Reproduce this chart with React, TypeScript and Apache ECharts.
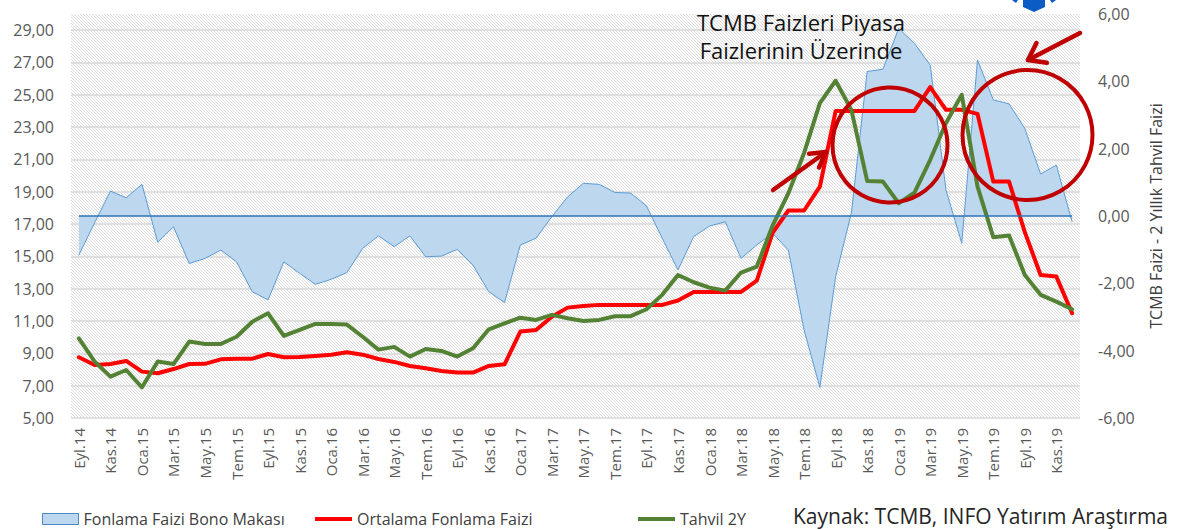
import React, { useEffect, useRef } from 'react';
import * as echarts from 'echarts';

const categories = [
  'Eyl.14', 'Eki.14', 'Kas.14', 'Ara.14',
  'Oca.15', 'Şub.15', 'Mar.15', 'Nis.15', 'May.15', 'Haz.15', 'Tem.15', 'Ağu.15', 'Eyl.15', 'Eki.15', 'Kas.15', 'Ara.15',
  'Oca.16', 'Şub.16', 'Mar.16', 'Nis.16', 'May.16', 'Haz.16', 'Tem.16', 'Ağu.16', 'Eyl.16', 'Eki.16', 'Kas.16', 'Ara.16',
  'Oca.17', 'Şub.17', 'Mar.17', 'Nis.17', 'May.17', 'Haz.17', 'Tem.17', 'Ağu.17', 'Eyl.17', 'Eki.17', 'Kas.17', 'Ara.17',
  'Oca.18', 'Şub.18', 'Mar.18', 'Nis.18', 'May.18', 'Haz.18', 'Tem.18', 'Ağu.18', 'Eyl.18', 'Eki.18', 'Kas.18', 'Ara.18',
  'Oca.19', 'Şub.19', 'Mar.19', 'Nis.19', 'May.19', 'Haz.19', 'Tem.19', 'Ağu.19', 'Eyl.19', 'Eki.19', 'Kas.19', 'Ara.19',
];

// Fonlama Faizi Bono Makası (right axis)
const spread = [
  -1.16, -0.2, 0.74, 0.54,
  0.94, -0.78, -0.32, -1.41, -1.26, -1.01, -1.36, -2.25, -2.49, -1.36, -1.7, -2.03,
  -1.88, -1.68, -0.96, -0.59, -0.91, -0.59, -1.21, -1.19, -0.99, -1.46, -2.25, -2.57,
  -0.86, -0.66, -0.02, 0.57, 0.97, 0.94, 0.7, 0.68, 0.3, -0.66, -1.6, -0.61,
  -0.3, -0.17, -1.26, -0.86, -0.51, -1.01, -3.39, -5.09, -1.8, 0.09, 4.29, 4.36,
  5.57, 5.13, 4.48, 0.77, -0.81, 4.63, 3.45, 3.33, 2.6, 1.25, 1.51, -0.17,
];

// Ortalama Fonlama Faizi (left axis)
const fundingRate = [
  8.76, 8.28, 8.34, 8.53,
  7.87, 7.77, 8.03, 8.34, 8.35, 8.63, 8.67, 8.67, 8.96, 8.76, 8.78, 8.84,
  8.92, 9.07, 8.92, 8.65, 8.47, 8.22, 8.08, 7.91, 7.81, 7.81, 8.22, 8.32,
  10.35, 10.45, 11.27, 11.83, 11.93, 12.0, 12.0, 12.0, 12.0, 12.0, 12.27, 12.8,
  12.8, 12.8, 12.8, 13.5, 16.45, 17.84, 17.84, 19.32, 24.0, 24.0, 24.0, 24.0,
  24.0, 24.0, 25.48, 24.07, 24.07, 23.82, 19.63, 19.63, 16.5, 13.85, 13.75, 11.48,
];

// Tahvil 2Y (left axis)
const bond2y = [
  9.93, 8.49, 7.56, 7.97,
  6.9, 8.49, 8.34, 9.73, 9.58, 9.58, 10.03, 10.96, 11.48, 10.08, 10.45, 10.82,
  10.82, 10.78, 10.03, 9.23, 9.4, 8.8, 9.27, 9.15, 8.8, 9.31, 10.49, 10.86,
  11.21, 11.07, 11.38, 11.17, 11.0, 11.07, 11.3, 11.3, 11.73, 12.62, 13.85, 13.4,
  13.07, 12.88, 14.0, 14.37, 16.9, 18.9, 21.4, 24.49, 25.87, 24.07, 19.67, 19.63,
  18.29, 18.95, 20.98, 23.25, 25.0, 19.32, 16.19, 16.29, 13.85, 12.62, 12.2, 11.73,
];

const seriesNames = ['Fonlama Faizi Bono Makası', 'Ortalama Fonlama Faizi', 'Tahvil 2Y'];
const leftAxisRange = [5, 30];
const leftAxisStep = 2;
const rightAxisRange = [-6, 6];
const rightAxisStep = 2;
const titleLines = ['TCMB Faizleri Piyasa', 'Faizlerinin Üzerinde'];
const rightAxisName = 'TCMB Faizi - 2 Yıllık Tahvil Faizi';
const sourceText = 'Kaynak: TCMB, INFO Yatırım Araştırma';

const FONT = '"Open Sans", "Noto Sans", sans-serif';
const ANNOT = '#C00000';

const fmt = (v: number) => v.toFixed(2).replace('.', ',');

function arrow(x1: number, y1: number, x2: number, y2: number, len: number, ang: number) {
  const dx = x2 - x1;
  const dy = y2 - y1;
  const d = Math.sqrt(dx * dx + dy * dy);
  const bx = -dx / d;
  const by = -dy / d;
  const rot = (a: number) => [
    x2 + len * (bx * Math.cos(a) - by * Math.sin(a)),
    y2 + len * (bx * Math.sin(a) + by * Math.cos(a)),
  ];
  const style = { stroke: ANNOT, lineWidth: 4.5, lineCap: 'round', lineJoin: 'round', fill: 'none' };
  return [
    { type: 'line', shape: { x1, y1, x2, y2 }, style, z: 100 },
    { type: 'polyline', shape: { points: [rot(ang), [x2, y2], rot(-ang)] }, style, z: 100 },
  ];
}

export default function App() {
  const ref = useRef<HTMLDivElement>(null);
  useEffect(() => {
    document.body.style.margin = '0';
    const chart = echarts.init(ref.current!, null, { renderer: 'svg' });

    const cv = document.createElement('canvas');
    cv.width = 3;
    cv.height = 3;
    const ctx = cv.getContext('2d')!;
    ctx.fillStyle = '#ffffff';
    ctx.fillRect(0, 0, 3, 3);
    ctx.fillStyle = '#dcdcdc';
    for (let i = 0; i < 3; i++) ctx.fillRect(i, i, 1, 1);

    const axisLabel = { fontFamily: FONT, fontSize: 16, color: '#595959' };

    const option: any = {
      animation: false,
      backgroundColor: '#ffffff',
      grid: {
        show: true,
        left: 71,
        right: 102,
        top: 14,
        bottom: 112,
        backgroundColor: { image: cv, repeat: 'repeat' },
        borderWidth: 0,
      },
      xAxis: {
        type: 'category',
        data: categories,
        boundaryGap: true,
        axisLine: { show: false },
        axisTick: { show: false },
        axisLabel: { ...axisLabel, fontSize: 15, rotate: 90, interval: 1, margin: 10 },
        splitLine: { show: false },
      },
      yAxis: [
        {
          type: 'value',
          min: leftAxisRange[0],
          max: leftAxisRange[1],
          interval: leftAxisStep,
          axisLine: { show: false },
          axisTick: { show: false },
          axisLabel: { ...axisLabel, margin: 17, showMaxLabel: false, formatter: fmt },
          splitLine: { show: true, showMaxLine: false, lineStyle: { color: '#d9d9d9', width: 1.5 } },
        },
        {
          type: 'value',
          min: rightAxisRange[0],
          max: rightAxisRange[1],
          interval: rightAxisStep,
          position: 'right',
          axisLine: { show: false },
          axisTick: { show: false },
          axisLabel: { ...axisLabel, margin: 18, formatter: fmt },
          splitLine: { show: false },
          name: rightAxisName,
          nameLocation: 'middle',
          nameRotate: 90,
          nameGap: 68,
          nameTextStyle: { fontFamily: FONT, fontSize: 16, color: '#404040' },
        },
      ],
      legend: [0, 1, 2].map((i) => ({
        left: [42, 315, 638][i],
        top: 511,
        padding: 0,
        itemGap: 0,
        itemWidth: i === 0 ? 36 : 37,
        itemHeight: i === 0 ? 11 : 4,
        textStyle: { fontFamily: FONT, fontSize: 16, color: '#404040' },
        data: [
          {
            name: seriesNames[i],
            icon: 'rect',
            itemStyle:
              i === 0
                ? { color: '#BDD7EE', borderColor: '#4F87C4', borderWidth: 1 }
                : { color: i === 1 ? '#FF0000' : '#548235', borderWidth: 0 },
          },
        ],
        selectedMode: false,
      })),
      series: [
        {
          name: seriesNames[0],
          type: 'line',
          yAxisIndex: 1,
          data: spread,
          symbol: 'none',
          color: '#BDD7EE',
          lineStyle: { color: '#5B9BD5', width: 1 },
          areaStyle: { color: '#BDD7EE', opacity: 1 },
          markLine: {
            silent: true,
            symbol: 'none',
            label: { show: false },
            lineStyle: { color: '#2E75B6', width: 1.5, type: 'solid' },
            data: [[{ coord: [categories[0], 0] }, { coord: [categories[categories.length - 1], 0] }]],
          },
          z: 1,
        },
        {
          name: seriesNames[1],
          type: 'line',
          yAxisIndex: 0,
          data: fundingRate,
          symbol: 'none',
          color: '#FF0000',
          lineStyle: { color: '#FF0000', width: 4, join: 'round', cap: 'round' },
          z: 3,
        },
        {
          name: seriesNames[2],
          type: 'line',
          yAxisIndex: 0,
          data: bond2y,
          symbol: 'none',
          color: '#548235',
          lineStyle: { color: '#548235', width: 4, join: 'round', cap: 'round' },
          z: 4,
        },
      ],
      graphic: [
        ...titleLines.map((t, i) => ({
          type: 'text',
          x: 801,
          y: 22 + i * 28,
          z: 100,
          style: {
            text: t,
            fill: '#111111',
            font: `22px ${FONT}`,
            textAlign: 'center',
            textVerticalAlign: 'middle',
            align: 'center',
            verticalAlign: 'middle',
          },
        })),
        {
          type: 'text',
          x: 793,
          y: 516,
          z: 100,
          style: {
            text: sourceText,
            fill: '#262626',
            font: `21px ${FONT}`,
            textAlign: 'left',
            textVerticalAlign: 'middle',
            align: 'left',
            verticalAlign: 'middle',
          },
        },
        {
          type: 'circle',
          shape: { cx: 890, cy: 145, r: 57.5 },
          style: { fill: 'none', stroke: ANNOT, lineWidth: 4 },
          z: 100,
        },
        {
          type: 'circle',
          shape: { cx: 1027.5, cy: 135, r: 65 },
          style: { fill: 'none', stroke: ANNOT, lineWidth: 4 },
          z: 100,
        },
        ...arrow(773, 190, 826, 152, 17, Math.PI / 6),
        ...arrow(1080, 33, 1028, 60, 19, Math.PI / 5),
        {
          type: 'polygon',
          shape: { points: [[1023, 0], [1045, 0], [1045, 7], [1034, 12], [1023, 7]] },
          style: { fill: '#0B5CC5' },
          z: 100,
        },
        {
          type: 'polygon',
          shape: { points: [[1012, 0], [1018, 0], [1016, 3]] },
          style: { fill: '#0B5CC5' },
          z: 100,
        },
        {
          type: 'polygon',
          shape: { points: [[1050, 0], [1056, 0], [1052, 3]] },
          style: { fill: '#0B5CC5' },
          z: 100,
        },
      ],
    };
    chart.setOption(option);
    return () => chart.dispose();
  }, []);
  return <div ref={ref} style={{ position: 'absolute', left: 0, top: 0, width: 1182, height: 530 }} />;
}
